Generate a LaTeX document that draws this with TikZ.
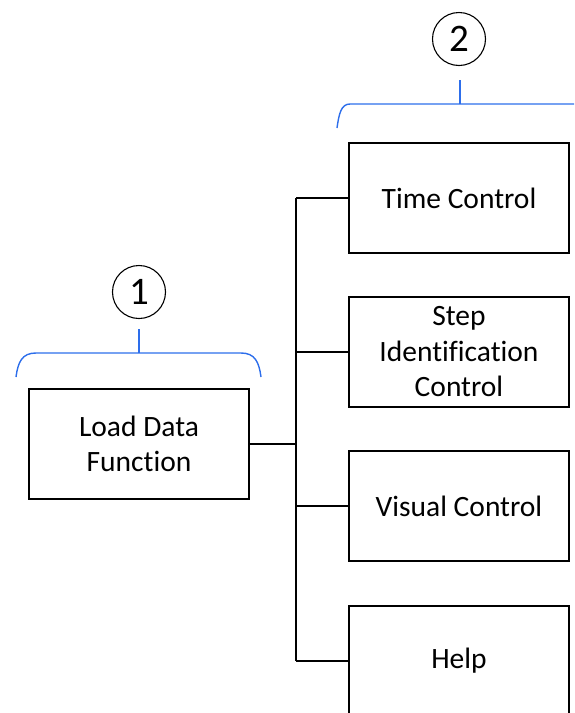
\documentclass[tikz,border=0pt]{standalone}
\usepackage{fontspec}
\setmainfont[Ligatures=NoCommon]{Carlito}
\definecolor{braceblue}{RGB}{45,110,235}
\begin{document}
\begin{tikzpicture}[x=1pt,y=-1pt,
  box/.style={draw=black,line width=1.2pt,minimum width=220pt,minimum height=110pt,
    inner sep=2pt,align=center,font=\fontsize{29.5pt}{35.5pt}\selectfont},
  link/.style={draw=black,line width=1.2pt},
  badge/.style={draw=black,line width=1.1pt,circle,minimum size=53pt,inner sep=0pt,
    font=\fontsize{39pt}{44pt}\selectfont},
  bracket/.style={draw=braceblue,line width=1.4pt}]
\useasboundingbox (0,0) rectangle (574,713);

% boxes
\node[box] (load) at (139,444) {Load Data\\Function};
\node[box] (time) at (459,198) {Time Control};
\node[box] (step) at (459,352) {Step\\Identification\\Control};
\node[box] (visual) at (459,506) {Visual Control};
\node[box] (help) at (459,661) {Help};

% tree connectors
\coordinate (trunk) at (296,444);
\draw[link] (load.east) -- (trunk);
\draw[link] (trunk |- time.west) -- (trunk |- help.west);
\foreach \n in {time,step,visual,help}
  \draw[link] (trunk |- \n.west) -- (\n.west);

% group labels
\node[badge] (one) at (139,292) {1};
\node[badge] (two) at (459,39) {2};

% bracket over group 1
\coordinate (b1) at (139,353);
\draw[bracket] (16,377) .. controls (18,362) and (22,353) .. (36,353) -- (241,353)
  .. controls (255,353) and (259,362) .. (261,377);
\draw[bracket] (b1) -- (139,329);

% bracket over group 2
\coordinate (b2) at (460,104);
\draw[bracket] (337,128) .. controls (339,114) and (341,104) .. (350,104) -- (574,104);
\draw[bracket] (b2) -- (460,80);
\end{tikzpicture}
\end{document}
